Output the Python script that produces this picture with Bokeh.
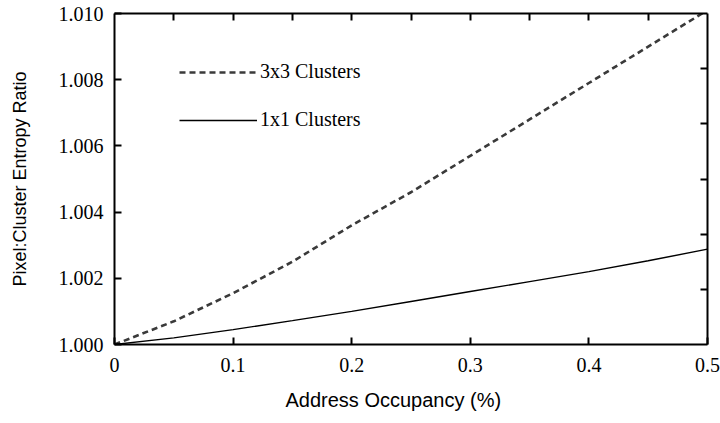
from bokeh.plotting import figure
from bokeh.models import (Range1d, FixedTicker, LinearAxis, Legend, LegendItem,
                          Title, NumeralTickFormatter)
from bokeh.embed import file_html
from bokeh.resources import INLINE

# ---- data ----
occupancy = [0.0, 0.05, 0.10, 0.15, 0.20, 0.25, 0.30, 0.35, 0.40, 0.45, 0.50]
ratio_3x3 = [1.0000, 1.0007, 1.00155, 1.0025, 1.0036, 1.0046, 1.0057, 1.0068, 1.0079, 1.0090, 1.0101]
ratio_1x1 = [1.0000, 1.0002, 1.00045, 1.00072, 1.0010, 1.0013, 1.0016, 1.0019, 1.0022, 1.00253, 1.00288]

x_ticks = [0.0, 0.1, 0.2, 0.3, 0.4, 0.5]
x_tick_labels = ["0", "0.1", "0.2", "0.3", "0.4", "0.5"]
y_ticks = [1.000, 1.002, 1.004, 1.006, 1.008, 1.010]
top_ticks = [0.05, 0.10, 0.15, 0.20, 0.25, 0.30, 0.35, 0.40, 0.45]
right_ticks = [1.0016667, 1.0033333, 1.0050, 1.0066667, 1.0083333]

series_names = ["3x3 Clusters", "1x1 Clusters"]
x_title = "Address Occupancy (%)"
y_title = "Pixel:Cluster Entropy Ratio"

SERIF = "Liberation Serif"
SANS = "Liberation Sans"

p = figure(width=720, height=423, output_backend="svg", toolbar_location=None,
           x_range=Range1d(0, 0.5), y_range=Range1d(1.000, 1.010),
           min_border_left=114, min_border_right=13, min_border_top=13,
           min_border_bottom=77)
p.outline_line_color = None
p.grid.visible = False
p.background_fill_color = "white"
p.border_fill_color = "white"

def style_axis(ax):
    ax.axis_line_width = 2
    ax.axis_line_color = "black"
    ax.major_tick_line_width = 2
    ax.major_tick_line_color = "black"
    ax.major_tick_in = 7
    ax.major_tick_out = 0
    ax.minor_tick_line_color = None
    ax.major_label_text_font = SERIF
    ax.major_label_text_font_size = "20px"
    ax.major_label_text_color = "black"
    ax.major_label_standoff = 11

xa = p.xaxis[0]
xa.ticker = FixedTicker(ticks=x_ticks)
xa.major_label_overrides = {t: s for t, s in zip(x_ticks, x_tick_labels)}
style_axis(xa)
xa.major_label_standoff = 13

ya = p.yaxis[0]
ya.ticker = FixedTicker(ticks=y_ticks)
ya.formatter = NumeralTickFormatter(format="0.000")
style_axis(ya)
ya.axis_label = y_title
ya.axis_label_text_font = SANS
ya.axis_label_text_font_size = "18px"
ya.axis_label_text_font_style = "normal"
ya.axis_label_text_color = "black"
ya.axis_label_standoff = 26

top_ax = LinearAxis(ticker=FixedTicker(ticks=top_ticks))
style_axis(top_ax)
top_ax.major_label_overrides = {t: "" for t in top_ticks}
top_ax.major_label_standoff = 0
p.add_layout(top_ax, "above")

right_ax = LinearAxis(ticker=FixedTicker(ticks=right_ticks))
style_axis(right_ax)
right_ax.major_label_overrides = {t: "" for t in right_ticks}
right_ax.major_label_standoff = 0
p.add_layout(right_ax, "right")

r3 = p.line(occupancy, ratio_3x3, line_color="#3a3a3a", line_width=2.6, line_dash="6 4")
r1 = p.line(occupancy, ratio_1x1, line_color="black", line_width=1.4)

legend = Legend(items=[LegendItem(label=series_names[0], renderers=[r3]),
                       LegendItem(label=series_names[1], renderers=[r1])],
                location=(65, 213), padding=0, margin=0, spacing=25,
                glyph_width=78, glyph_height=20, label_height=20,
                label_standoff=3, label_text_font=SERIF,
                label_text_font_size="20px", label_text_color="black",
                border_line_color=None, background_fill_alpha=0)
p.add_layout(legend, "center")

p.add_layout(Title(text=x_title, align="left", offset=171, standoff=25,
                   text_font=SANS, text_font_size="20px", text_font_style="normal",
                   text_color="black"), "below")

open("out.html", "w").write(file_html(p, INLINE))
